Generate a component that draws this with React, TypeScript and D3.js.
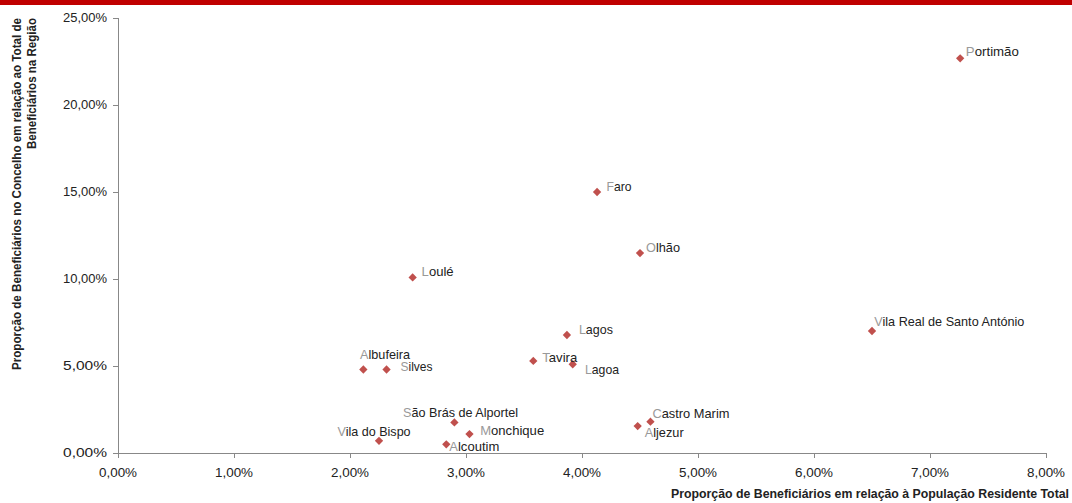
import React from "react";
import * as d3 from "d3";

const names = ["Portimão","Faro","Olhão","Loulé","Vila Real de Santo António","Lagos","Tavira","Lagoa","Albufeira","Silves","São Brás de Alportel","Castro Marim","Aljezur","Monchique","Vila do Bispo","Alcoutim"];
const xValues = [7.26,4.13,4.50,2.54,6.50,3.87,3.58,3.92,2.115,2.315,2.90,4.59,4.48,3.03,2.25,2.83];
const yValues = [22.68,15.0,11.49,10.09,7.01,6.78,5.29,5.10,4.80,4.80,1.76,1.80,1.55,1.09,0.70,0.50];
// label layout (offsets from marker, rendered widths)
const labelDx = [5.7,9.4,6,9,2.3,12,9,12.3,-3.3,14,-51.3,2,7,10.7,-41.4,3];
const labelDy = [-2.1,-1.1,-0.8,-1.5,-5.5,-1.5,1.2,10.2,-10.8,1.5,-5.5,-3.9,10.8,0.9,-4.5,6.2];
const labelW = [53,25,34,32,150,34,35,34,50,32,115,77,39,64,73,50];
const xTicks = [0,1,2,3,4,5,6,7,8];
const yTicks = [0,5,10,15,20,25];

const W = 1072, H = 503;
const x = d3.scaleLinear().domain([0, 8]).range([118, 1046]);
const y = d3.scaleLinear().domain([0, 25]).range([453, 18]);
const fmt = (v: number) => v.toFixed(2).replace(".", ",") + "%";
const FONT = "'Liberation Sans', Arial, sans-serif";

export default function App() {
  const diamond = d3.symbol().type(d3.symbolDiamond2).size(44)() as string;
  return (
    <svg width={W} height={H} style={{ position: "absolute", left: 0, top: 0, background: "#fff" }} fontFamily={FONT}>
      <rect x={0} y={0} width={W} height={5} fill="#C00000" />
      {/* axes */}
      <line x1={118.5} x2={118.5} y1={y(25)} y2={453} stroke="#888" strokeWidth={1} />
      <line x1={118} x2={1046} y1={453.5} y2={453.5} stroke="#888" strokeWidth={1} />
      {yTicks.map((t) => (
        <g key={"y" + t}>
          <line x1={113} x2={118} y1={y(t) + 0.5} y2={y(t) + 0.5} stroke="#888" />
          <text x={107} y={y(t) + 4} textAnchor="end" fontSize={12} fill="#222" textLength={44} lengthAdjust="spacingAndGlyphs">{fmt(t)}</text>
        </g>
      ))}
      {xTicks.map((t) => (
        <g key={"x" + t}>
          <line x1={x(t) + 0.5} x2={x(t) + 0.5} y1={453} y2={458} stroke="#888" />
          <text x={x(t)} y={477} textAnchor="middle" fontSize={12} fill="#222" textLength={38} lengthAdjust="spacingAndGlyphs">{fmt(t)}</text>
        </g>
      ))}
      {/* points */}
      {names.map((n, i) => (
        <path key={"p" + i} d={diamond} transform={`translate(${x(xValues[i])},${y(yValues[i])})`} fill="#C0504D" />
      ))}
      {names.map((n, i) => (
        <text key={"l" + i} x={x(xValues[i]) + labelDx[i]} y={y(yValues[i]) + labelDy[i]} fontSize={13} fill="#222"
          textLength={labelW[i]} lengthAdjust="spacingAndGlyphs">
          <tspan fill="#999">{n[0]}</tspan>
          <tspan>{n.slice(1)}</tspan>
        </text>
      ))}
      {/* axis titles */}
      <text x={1069} y={498} textAnchor="end" fontSize={12} fontWeight="bold" fill="#222" textLength={398} lengthAdjust="spacingAndGlyphs">
        Proporção de Beneficiários em relação à População Residente Total
      </text>
      <g transform="translate(21,18) rotate(-90)">
        <text x={0} y={0} textAnchor="end" fontSize={12} fontWeight="bold" fill="#222" textLength={352} lengthAdjust="spacingAndGlyphs">
          Proporção de Beneficiários no Concelho em relação ao Total de
        </text>
        <text x={0} y={15} textAnchor="end" fontSize={12} fontWeight="bold" fill="#222" textLength={131} lengthAdjust="spacingAndGlyphs">
          Beneficiários na Região
        </text>
      </g>
    </svg>
  );
}
